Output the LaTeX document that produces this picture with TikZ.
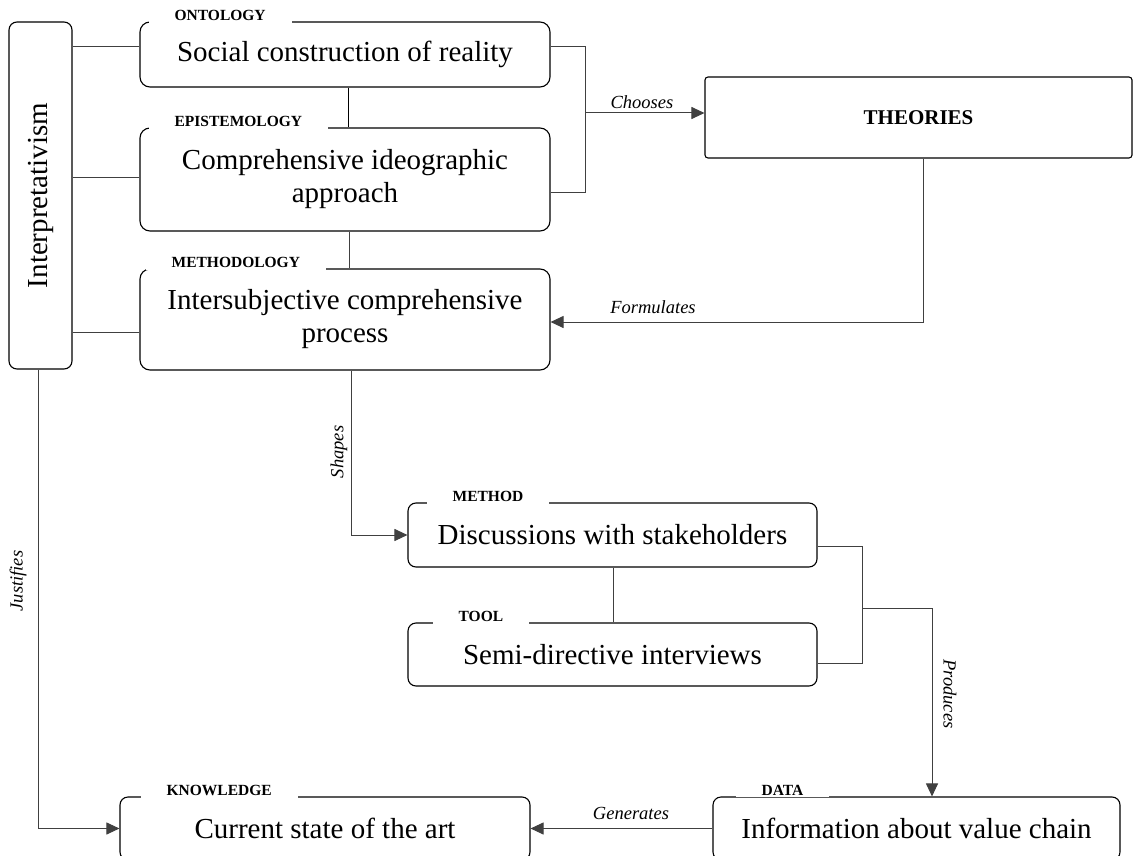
\documentclass[tikz,border=0pt]{standalone}
\usepackage{fontspec}
\setmainfont{Liberation Serif}
\usetikzlibrary{arrows.meta}
\begin{document}
\begin{tikzpicture}[x=1pt,y=-1pt,
  box/.style={draw=black, line width=1.1pt, rounded corners=10pt, inner sep=0pt, align=center, font=\fontsize{29}{33}\selectfont},
  lab/.style={fill=white, inner xsep=26pt, inner ysep=2pt, font=\bfseries\fontsize{15.5}{16}\selectfont, anchor=base west},
  conn/.style={draw=black!75, line width=1pt},
  arr/.style={conn, -{Triangle[length=13pt,width=12pt]}},
  elab/.style={font=\itshape\fontsize{18.5}{20}\selectfont, inner sep=0pt},
]
\useasboundingbox (0,0) rectangle (1135,856);

% boxes
\node[box, rounded corners=8pt, minimum width=63pt, minimum height=347pt] (interp) at (40.5,195.5) {\rotatebox{90}{Interpretativism}};
\node[box, minimum width=410pt, minimum height=65pt] (ont) at (345,54.5) {Social construction of reality};
\node[box, minimum width=410pt, minimum height=103pt] (epi) at (345,179.5) {Comprehensive ideographic\\approach};
\node[box, minimum width=410pt, minimum height=101pt] (meth) at (345,319.5) {Intersubjective comprehensive\\process};
\node[box, rounded corners=3pt, minimum width=427pt, minimum height=81pt, font=\bfseries\fontsize{21}{24}\selectfont] (theo) at (918.5,117.5) {THEORIES};
\node[box, rounded corners=8pt, minimum width=409pt, minimum height=64pt] (disc) at (612.5,535) {Discussions with stakeholders};
\node[box, rounded corners=8pt, minimum width=409pt, minimum height=63pt] (tool) at (612.5,654.5) {Semi-directive interviews};
\node[box, rounded corners=8pt, minimum width=410pt, minimum height=63pt] (know) at (325,828.5) {Current state of the art};
\node[box, rounded corners=8pt, minimum width=407pt, minimum height=63pt] (data) at (916.5,828.5) {Information about value chain};

% labels on top borders
\node[lab] (lont) at ([xshift=9pt,yshift=1pt]ont.north west) {ONTOLOGY};
\node[lab] (lepi) at ([xshift=9pt,yshift=1pt]epi.north west) {EPISTEMOLOGY};
\node[lab] (lmeth) at ([xshift=6pt,yshift=1pt]meth.north west) {METHODOLOGY};
\node[lab] (ldisc) at ([xshift=19pt,yshift=1pt]disc.north west) {METHOD};
\node[lab] (ltool) at ([xshift=25pt,yshift=1pt]tool.north west) {TOOL};
\node[lab] (lknow) at ([xshift=21pt,yshift=1pt]know.north west) {KNOWLEDGE};
\node[lab] (ldata) at ([xshift=23pt,yshift=1pt]data.north west) {DATA};

% interpretativism links
\draw[conn] (interp.east |- 0,47) -- (ont.west |- 0,47);
\draw[conn] (interp.east |- 0,177) -- (epi.west |- 0,177);
\draw[conn] (interp.east |- 0,332) -- (meth.west |- 0,332);

% vertical links between paradigm boxes
\draw[conn, draw=black] (ont.south -| 348,0) -- (epi.north -| 348,0);
\draw[conn] (epi.south -| 349,0) -- (meth.north -| 349,0);

% bracket and Chooses
\coordinate (brk) at (585,113);
\draw[conn] (ont.east |- 0,47) -- (585,47) -- (585,192) -- (epi.east |- 0,192);
\draw[arr] (brk) -- (brk -| theo.west);
\node[elab] (tchoose) at (642,102) {Chooses};

% Formulates
\draw[arr] (theo.south -| 923,0) -- (923,322) -- (meth.east |- 0,322);
\node[elab] (tform) at (653,307) {Formulates};

% Shapes
\draw[arr] (meth.south -| 351,0) -- (351,535) -- (disc.west);
\node[elab, rotate=90] (tshape) at (339,452) {Shapes};

% method - tool
\draw[conn] (disc.south -| 613,0) -- (tool.north -| 613,0);
\coordinate (brk2) at (862,608);
\draw[conn] (disc.east |- 0,546) -- (862,546) -- (862,663) -- (tool.east |- 0,663);
\draw[arr] (brk2) -- (932,608) -- (data.north -| 932,0);
\node[elab, rotate=-90] (tprod) at (950,694) {Produces};

% Generates
\draw[arr] (data.west) -- (know.east);
\node[elab] (tgen) at (631,813) {Generates};

% Justifies
\draw[arr] (interp.south -| 38,0) -- (38,828.5) -- (know.west);
\node[elab, rotate=90] (tjust) at (18,581) {Justifies};
\end{tikzpicture}
\end{document}
